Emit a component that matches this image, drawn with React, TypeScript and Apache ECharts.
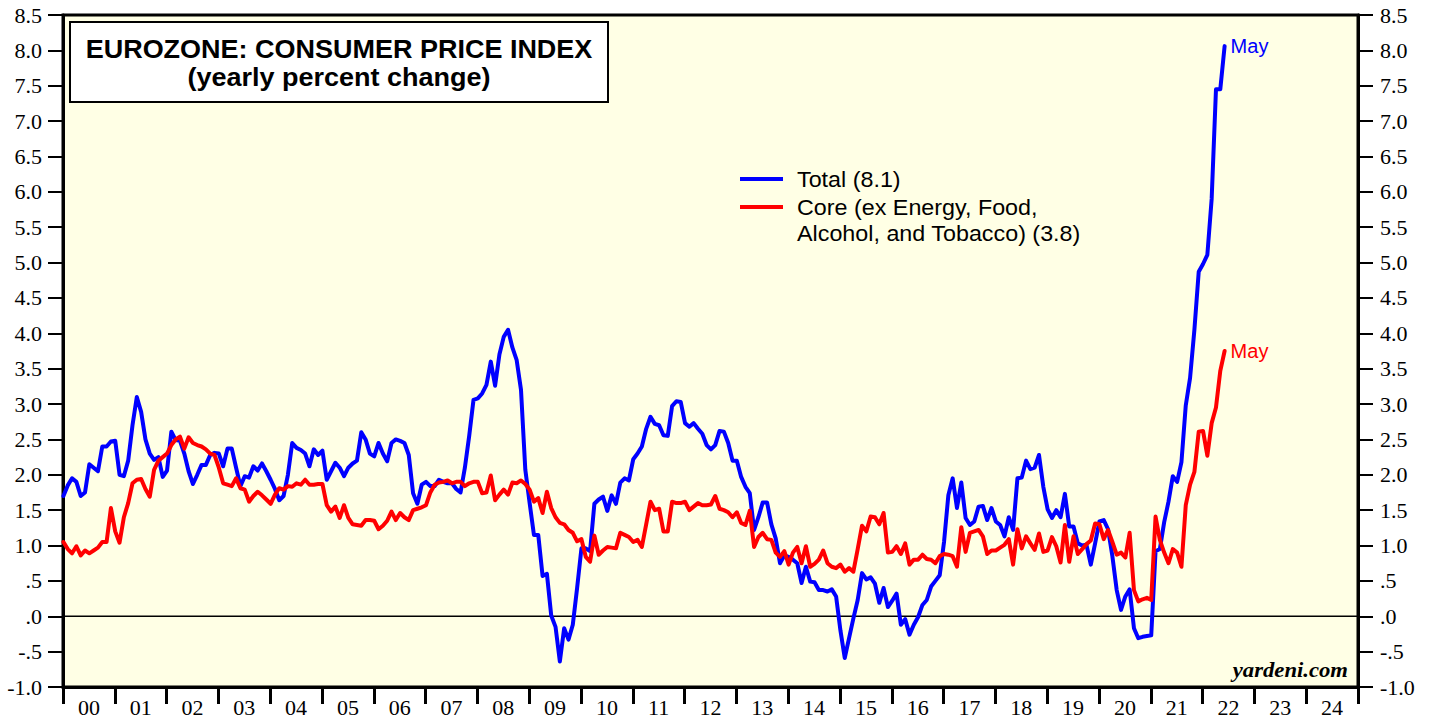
import React, { useEffect, useRef } from "react";
import * as echarts from "echarts";

// ---------- data (yearly % change, monthly; first value = Dec 1999) ----------
const YEAR_LABELS = [
  "00", "01", "02", "03", "04", "05", "06", "07", "08", "09", "10", "11", "12",
  "13", "14", "15", "16", "17", "18", "19", "20", "21", "22", "23", "24",
];

const TOTAL_CPI = [
  1.7,
  1.85, 1.95, 1.9, 1.7, 1.75, 2.15, 2.1, 2.05, 2.4, 2.4, 2.47, 2.48, // 2000
  2.0, 1.98, 2.2, 2.7, 3.1, 2.89, 2.5, 2.3, 2.21, 2.25, 1.97, 2.06, // 2001
  2.61, 2.49, 2.48, 2.3, 2.05, 1.87, 2.0, 2.14, 2.14, 2.28, 2.31, 2.3, // 2002
  2.12, 2.37, 2.37, 2.1, 1.84, 1.98, 1.96, 2.12, 2.06, 2.16, 2.05, 1.93, // 2003
  1.8, 1.64, 1.7, 2.0, 2.45, 2.38, 2.35, 2.3, 2.12, 2.36, 2.28, 2.34, // 2004
  1.93, 2.05, 2.17, 2.1, 1.98, 2.1, 2.16, 2.2, 2.6, 2.5, 2.3, 2.26, // 2005
  2.45, 2.3, 2.19, 2.45, 2.5, 2.48, 2.45, 2.28, 1.74, 1.59, 1.86, 1.9, // 2006
  1.84, 1.84, 1.93, 1.9, 1.88, 1.88, 1.8, 1.75, 2.1, 2.55, 3.06, 3.08, // 2007
  3.15, 3.27, 3.6, 3.26, 3.7, 3.95, 4.05, 3.8, 3.62, 3.2, 2.07, 1.6, // 2008
  1.15, 1.15, 0.57, 0.6, 0.01, -0.15, -0.64, -0.17, -0.33, -0.12, 0.4, 0.96, // 2009
  0.96, 0.92, 1.59, 1.65, 1.69, 1.49, 1.71, 1.59, 1.89, 1.95, 1.92, 2.22, // 2010
  2.3, 2.4, 2.65, 2.82, 2.72, 2.7, 2.56, 2.55, 2.97, 3.04, 3.03, 2.73, // 2011
  2.68, 2.73, 2.65, 2.58, 2.42, 2.36, 2.42, 2.62, 2.61, 2.45, 2.2, 2.2, // 2012
  1.97, 1.83, 1.74, 1.22, 1.4, 1.61, 1.61, 1.3, 1.1, 0.75, 0.86, 0.84, // 2013
  0.8, 0.75, 0.47, 0.7, 0.49, 0.48, 0.37, 0.37, 0.35, 0.38, 0.28, -0.2, // 2014
  -0.59, -0.31, -0.03, 0.23, 0.61, 0.52, 0.55, 0.46, 0.19, 0.4, 0.13, 0.22, // 2015
  0.32, -0.12, -0.04, -0.26, -0.12, -0.01, 0.16, 0.23, 0.42, 0.5, 0.58, 1.05, // 2016
  1.71, 1.95, 1.53, 1.89, 1.39, 1.29, 1.34, 1.55, 1.56, 1.36, 1.53, 1.34, // 2017
  1.29, 1.13, 1.4, 1.22, 1.95, 1.96, 2.2, 2.08, 2.1, 2.28, 1.83, 1.51, // 2018
  1.39, 1.5, 1.4, 1.73, 1.27, 1.27, 1.03, 1.0, 1.01, 0.73, 1.03, 1.34, // 2019
  1.36, 1.23, 0.85, 0.37, 0.09, 0.28, 0.38, -0.17, -0.31, -0.29, -0.28, -0.27, // 2020
  0.92, 0.95, 1.33, 1.62, 1.98, 1.9, 2.18, 2.98, 3.37, 4.05, 4.87, 4.98, // 2021
  5.11, 5.9, 7.45, 7.45, 8.06, // 2022
];

const CORE_CPI = [
  1.05,
  0.95, 0.89, 0.99, 0.86, 0.93, 0.89, 0.93, 0.97, 1.05, 1.05, 1.53, 1.2, // 2000
  1.04, 1.4, 1.6, 1.88, 1.93, 1.94, 1.8, 1.69, 2.07, 2.2, 2.25, 2.3, // 2001
  2.42, 2.5, 2.54, 2.37, 2.53, 2.45, 2.42, 2.4, 2.36, 2.3, 2.28, 2.1, // 2002
  1.88, 1.86, 1.84, 1.95, 1.81, 1.79, 1.62, 1.7, 1.76, 1.71, 1.65, 1.59, // 2003
  1.72, 1.81, 1.79, 1.84, 1.83, 1.88, 1.86, 1.93, 1.86, 1.86, 1.87, 1.87, // 2004
  1.57, 1.48, 1.55, 1.39, 1.57, 1.39, 1.3, 1.29, 1.28, 1.36, 1.36, 1.35, // 2005
  1.23, 1.28, 1.35, 1.48, 1.36, 1.46, 1.4, 1.36, 1.5, 1.52, 1.54, 1.57, // 2006
  1.75, 1.86, 1.89, 1.9, 1.92, 1.88, 1.9, 1.9, 1.84, 1.88, 1.9, 1.9, // 2007
  1.74, 1.75, 1.99, 1.64, 1.72, 1.79, 1.72, 1.89, 1.88, 1.92, 1.87, 1.79, // 2008
  1.62, 1.67, 1.46, 1.76, 1.53, 1.4, 1.32, 1.3, 1.22, 1.18, 1.06, 1.09, // 2009
  0.84, 0.77, 1.14, 0.87, 0.93, 0.98, 0.97, 0.96, 1.18, 1.15, 1.12, 1.05, // 2010
  1.08, 0.98, 1.3, 1.62, 1.5, 1.52, 1.2, 1.2, 1.62, 1.6, 1.6, 1.62, // 2011
  1.5, 1.55, 1.6, 1.57, 1.57, 1.58, 1.7, 1.52, 1.5, 1.47, 1.4, 1.47, // 2012
  1.32, 1.29, 1.49, 0.98, 1.12, 1.18, 1.09, 1.08, 0.9, 0.84, 0.92, 0.73, // 2013
  0.9, 0.98, 0.75, 0.99, 0.7, 0.74, 0.8, 0.93, 0.75, 0.7, 0.68, 0.73, // 2014
  0.63, 0.68, 0.63, 0.95, 1.28, 1.2, 1.41, 1.4, 1.3, 1.46, 0.9, 0.91, // 2015
  0.99, 0.88, 1.03, 0.73, 0.8, 0.8, 0.87, 0.81, 0.8, 0.75, 0.85, 0.88, // 2016
  0.87, 0.85, 0.7, 1.26, 0.91, 1.18, 1.2, 1.22, 1.13, 0.88, 0.93, 0.93, // 2017
  0.97, 1.01, 1.09, 0.73, 1.23, 0.96, 1.13, 1.03, 0.94, 1.17, 0.91, 0.93, // 2018
  1.12, 0.99, 0.76, 1.29, 0.77, 1.13, 0.88, 0.95, 1.02, 1.07, 1.31, 1.3, // 2019
  1.09, 1.22, 1.05, 0.87, 0.9, 0.83, 1.18, 0.37, 0.21, 0.24, 0.26, 0.23, // 2020
  1.41, 1.08, 0.9, 0.75, 0.95, 0.9, 0.7, 1.57, 1.86, 2.04, 2.61, 2.62, // 2021
  2.27, 2.73, 2.95, 3.47, 3.75, // 2022
];

const TITLE_LINES = ["EUROZONE: CONSUMER PRICE INDEX", "(yearly percent change)"];
const TOTAL_LEGEND = ["Total (8.1)"];
const CORE_LEGEND = ["Core (ex Energy, Food,", "Alcohol, and Tobacco) (3.8)"];
const END_LABEL = "May";
const SOURCE = "yardeni.com";

const X_START = 2000;
const X_END = 2025;
const MONTH_OFFSET = 0.1; // plotted position of the first (Dec 1999) observation, in months past Jan 1 2000

const SERIF = '"Liberation Serif", "Times New Roman", serif';
const SANS = '"Liberation Sans", Arial, Helvetica, sans-serif';

const toPairs = (vals: number[]) =>
  vals.map((v, k) => [X_START + (k + MONTH_OFFSET) / 12, v]);

const fmtY = (v: number) => {
  const a = Math.abs(v);
  let s = a.toFixed(1);
  if (a < 1) s = s.slice(1);
  return (v < 0 ? "-" : "") + s;
};

const yAxisBase = {
  type: "value",
  min: -1,
  max: 8.5,
  interval: 0.5,
  splitLine: { show: false },
  axisLine: { show: true, onZero: false, lineStyle: { color: "#000", width: 3 } },
  axisTick: { show: true, inside: false, length: 15, lineStyle: { color: "#000", width: 2 } },
};

export default function App() {
  const ref = useRef<HTMLDivElement>(null);

  useEffect(() => {
    document.body.style.margin = "0";
    if (!ref.current) return;
    const chart = echarts.init(ref.current, undefined, { renderer: "svg" });

    const legendText = (text: string, x: number, y: number) => ({
      type: "text",
      x,
      y,
      scaleX: 1.06,
      z: 101,
      style: {
        text,
        font: `22px ${SANS}`,
        fill: "#000",
        align: "left",
        verticalAlign: "middle",
        textAlign: "left",
        textVerticalAlign: "middle",
      },
    });

    const option: any = {
      animation: false,
      backgroundColor: "#ffffff",
      grid: {
        left: 63,
        right: 73,
        top: 15,
        bottom: 34,
        show: true,
        backgroundColor: "#FFFFE5",
        borderColor: "#000",
        borderWidth: 3,
      },
      xAxis: [
        { type: "value", min: X_START, max: X_END, show: false, position: "top" },
        {
          type: "category",
          data: YEAR_LABELS,
          position: "bottom",
          boundaryGap: true,
          axisLine: { show: true, onZero: false, lineStyle: { color: "#000", width: 3 } },
          axisTick: {
            show: true,
            inside: false,
            interval: 0,
            alignWithLabel: false,
            length: 17,
            lineStyle: { color: "#000", width: 3 },
          },
          axisLabel: {
            interval: 0,
            margin: 9,
            color: "#000",
            fontSize: 22,
            fontFamily: SERIF,
          },
          splitLine: { show: false },
        },
      ],
      yAxis: [
        {
          ...yAxisBase,
          position: "left",
          axisLabel: { margin: 21, color: "#000", fontSize: 22, fontFamily: SERIF, formatter: fmtY },
        },
        {
          ...yAxisBase,
          position: "right",
          axisLabel: { margin: 22, color: "#000", fontSize: 22, fontFamily: SERIF, formatter: fmtY },
        },
      ],
      series: [
        {
          name: "zero",
          type: "line",
          xAxisIndex: 0,
          yAxisIndex: 0,
          data: [
            [X_START, 0],
            [X_END, 0],
          ],
          symbol: "none",
          showSymbol: false,
          silent: true,
          z: 1,
          lineStyle: { color: "#000", width: 1.3 },
        },
        {
          name: "Total",
          type: "line",
          xAxisIndex: 0,
          yAxisIndex: 0,
          data: toPairs(TOTAL_CPI),
          symbol: "none",
          showSymbol: false,
          z: 3,
          itemStyle: { color: "#0000FF" },
          lineStyle: { color: "#0000FF", width: 4, join: "round", cap: "round" },
          endLabel: {
            show: true,
            formatter: END_LABEL,
            color: "#0000FF",
            fontSize: 20,
            fontFamily: SANS,
            distance: 6,
          },
        },
        {
          name: "Core",
          type: "line",
          xAxisIndex: 0,
          yAxisIndex: 0,
          data: toPairs(CORE_CPI),
          symbol: "none",
          showSymbol: false,
          z: 4,
          itemStyle: { color: "#FF0000" },
          lineStyle: { color: "#FF0000", width: 4, join: "round", cap: "round" },
          endLabel: {
            show: true,
            formatter: END_LABEL,
            color: "#FF0000",
            fontSize: 20,
            fontFamily: SANS,
            distance: 6,
          },
        },
      ],
      graphic: [
        {
          type: "rect",
          z: 100,
          shape: { x: 70, y: 22, width: 538, height: 80 },
          style: { fill: "#ffffff", stroke: "#000", lineWidth: 2 },
        },
        {
          type: "text",
          x: 339,
          y: 49,
          scaleX: 1.08,
          z: 101,
          style: {
            text: TITLE_LINES[0],
            font: `bold 25px ${SANS}`,
            fill: "#000",
            align: "center",
            verticalAlign: "middle",
            textAlign: "center",
            textVerticalAlign: "middle",
          },
        },
        {
          type: "text",
          x: 339,
          y: 77,
          scaleX: 1.08,
          z: 101,
          style: {
            text: TITLE_LINES[1],
            font: `bold 25px ${SANS}`,
            fill: "#000",
            align: "center",
            verticalAlign: "middle",
            textAlign: "center",
            textVerticalAlign: "middle",
          },
        },
        {
          type: "line",
          z: 101,
          shape: { x1: 740, y1: 179, x2: 783, y2: 179 },
          style: { stroke: "#0000FF", lineWidth: 4 },
        },
        {
          type: "line",
          z: 101,
          shape: { x1: 740, y1: 207, x2: 783, y2: 207 },
          style: { stroke: "#FF0000", lineWidth: 4 },
        },
        legendText(TOTAL_LEGEND[0], 797, 179),
        legendText(CORE_LEGEND[0], 797, 207),
        legendText(CORE_LEGEND[1], 797, 233),
        {
          type: "text",
          x: 1348,
          y: 670,
          scaleX: 1.08,
          z: 101,
          style: {
            text: SOURCE,
            font: `italic bold 21px ${SERIF}`,
            fill: "#000",
            align: "right",
            verticalAlign: "middle",
            textAlign: "right",
            textVerticalAlign: "middle",
          },
        },
      ],
    };

    chart.setOption(option);
    return () => chart.dispose();
  }, []);

  return <div ref={ref} style={{ width: 1431, height: 721 }} />;
}
